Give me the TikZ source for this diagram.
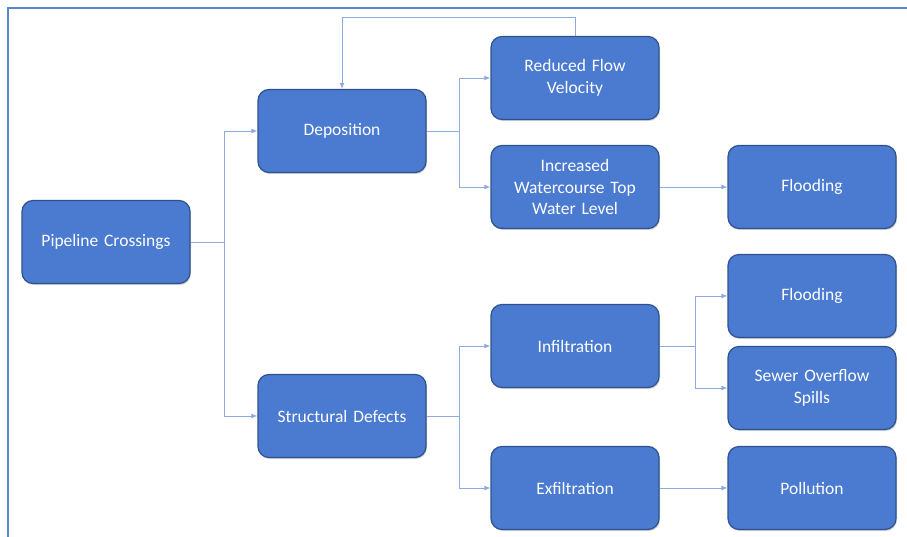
\documentclass[tikz,border=0pt]{standalone}
\usepackage{fontspec}
\setmainfont{Carlito}
\usepackage{tikz}
\usetikzlibrary{arrows.meta,shadows}
\definecolor{boxfill}{HTML}{4A7BD0}
\definecolor{boxline}{HTML}{2F528F}
\definecolor{linkblue}{HTML}{8FAADC}
\definecolor{frameblue}{HTML}{5B86C8}
\tikzset{
	% ---- default
	every path/.style={line width=0.6pt},
	every node/.style={font=\fontsize{17.5}{21.5}\selectfont},
	% ---- custom
	block/.style={rectangle, rounded corners=11pt, fill=boxfill, draw=boxline,
		line width=1.2pt, text=white, minimum width=168pt, minimum height=83pt,
		text width=156pt, align=center, inner sep=0pt,
		drop shadow={shadow xshift=1pt, shadow yshift=-1.5pt, opacity=0.35}},
	connector/.style={draw=linkblue, line width=0.9pt,
		-{Latex[length=6pt,width=5pt]}},
	link/.style={draw=linkblue, line width=0.9pt},
	frame/.style={draw=frameblue, line width=2pt},
}

\begin{document}
\begin{tikzpicture}[x=1pt,y=-1pt]

% canvas %{{{2

	\useasboundingbox (0,0) rectangle (907,537);
	\draw[frame] (8,537) -- (8,8) -- (907,8);

% blocks %{{{2

	\node[block] (PC) at (106,242) {Pipeline Crossings};
	\node[block] (DP) at (342,131) {Deposition};
	\node[block] (SD) at (342,416) {Structural Defects};
	\node[block] (RF) at (575,78) {Reduced Flow\\Velocity};
	\node[block] (WL) at (575,187) {Increased\\Watercourse Top\\Water Level};
	\node[block] (IN) at (575,346) {Infiltration};
	\node[block] (EX) at (575,488) {Exfiltration};
	\node[block] (FA) at (812,187) {Flooding};
	\node[block] (FB) at (812,296) {Flooding};
	\node[block] (SO) at (812,388) {Sewer Overflow\\Spills};
	\node[block] (PO) at (812,488) {Pollution};

% junctions %{{{2

	\coordinate (J1) at (224,242);
	\coordinate (J2) at (459,131);
	\coordinate (J3) at (459,416);
	\coordinate (J4) at (695,346);
	\coordinate (T) at (575,17);

% connectors %{{{2

	\draw[link] (PC) -- (J1);
	\draw[connector] (J1) |- (DP);
	\draw[connector] (J1) |- (SD);

	\draw[link] (DP) -- (J2);
	\draw[connector] (J2) |- (RF);
	\draw[connector] (J2) |- (WL);

	\draw[link] (RF) -- (T);
	\draw[connector] (T) -| (DP);

	\draw[connector] (WL) -- (FA);

	\draw[link] (SD) -- (J3);
	\draw[connector] (J3) |- (IN);
	\draw[connector] (J3) |- (EX);

	\draw[link] (IN) -- (J4);
	\draw[connector] (J4) |- (FB);
	\draw[connector] (J4) |- (SO);

	\draw[connector] (EX) -- (PO);

% closing %{{{2

\end{tikzpicture}
\end{document}
